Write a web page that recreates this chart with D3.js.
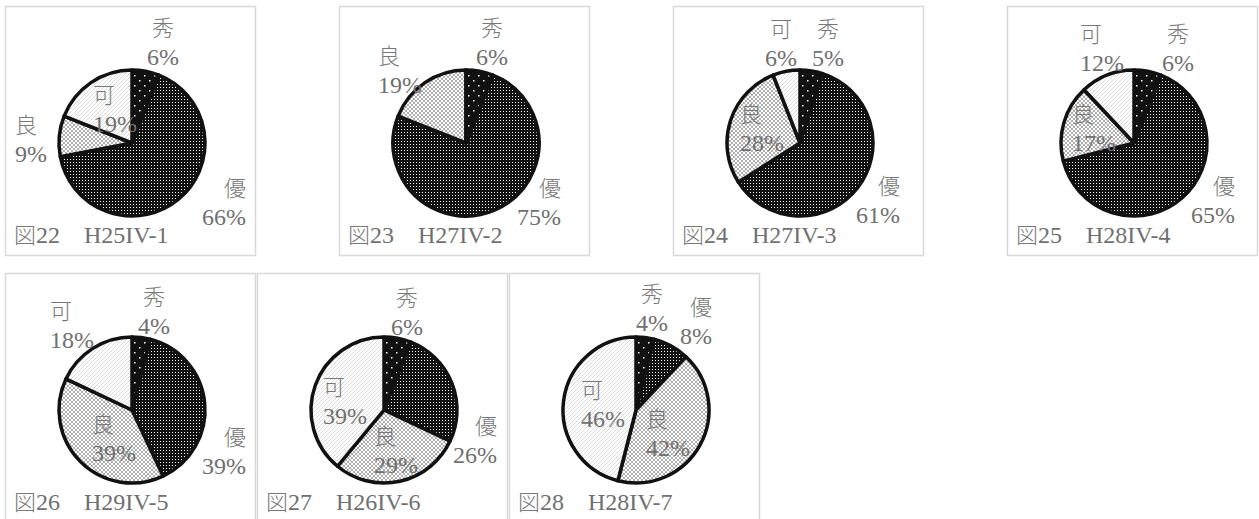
<!DOCTYPE html>
<html lang="ja">
<head>
<meta charset="utf-8">
<script src="https://cdn.jsdelivr.net/npm/d3@7"></script>
<style>
  body { margin: 0; background: #fff; }
  svg { display: block; }
  text { font-family: "Liberation Serif", "Noto Sans CJK JP", serif; fill: #707070; }
  .kanji { font-weight: 300; fill: #787878; }
</style>
</head>
<body>
<svg id="drawing_pie"></svg>
<script>
// 評価の区分（12時から時計回り）
const grades = ["秀", "優", "良", "可"];
const figNos = ["図22", "図23", "図24", "図25", "図26", "図27", "図28"];
const exams = ["H25IV-1", "H27IV-2", "H27IV-3", "H28IV-4", "H29IV-5", "H26IV-6", "H28IV-7"];
// 割合(%) 秀, 優, 良, 可
const shares = [
    [6, 66, 9, 19],
    [6, 75, 19, 0],
    [5, 61, 28, 6],
    [6, 65, 17, 12],
    [4, 39, 39, 18],
    [6, 26, 29, 39],
    [4, 8, 42, 46]
];

// ラベルの位置（円の中心から dx, dy, 揃え）
const labelPos = [
    [[31, -101, "middle"], [114, 59, "end"], [-117, -4, "start"], [-39, -34, "start"]],
    [[26, -101, "middle"], [95, 59, "end"], [-88, -73, "start"], null],
    [[28, -100, "middle"], [100, 57, "end"], [-60, -15, "start"], [-19, -100, "middle"]],
    [[44, -95, "middle"], [101, 57, "end"], [-62, -15, "start"], [-54, -95, "start"]],
    [[22, -99, "middle"], [114, 41, "end"], [-40, 28, "start"], [-82, -85, "start"]],
    [[23, -98, "middle"], [113, 30, "end"], [-10, 40, "start"], [-61, -9, "start"]],
    [[16, -102, "middle"], [76, -89, "end"], [10, 23, "start"], [-55, -6, "start"]]
];

// 枠の位置
const boxX = [5, 339, 673, 1007, 5, 257, 509];
const boxY = [6, 6, 6, 6, 273, 273, 273];

class PieBox {
    constructor(svg, i) {
        this.svg = svg;
        this.i = i;
        this.width = 250;
        this.height = 249;
        this.cx = 127;   // 円の中心
        this.cy = 137;
        this.radius = 73;
    }

    render(fill) {
        const g = this.svg.append('g')
            .attr('transform', `translate(${boxX[this.i]}, ${boxY[this.i]})`);

        // 枠
        g.append('rect')
            .attr('x', 0.5).attr('y', 0.5)
            .attr('width', this.width).attr('height', this.height)
            .attr('fill', '#fff')
            .attr('stroke', '#d9d9d9')
            .attr('stroke-width', 1.5);

        const data = grades.map((k, j) => ({ grade: k, value: shares[this.i][j], pos: labelPos[this.i][j] }));

        const pie = d3.pie().sort(null).value(d => d.value);
        const arc = d3.arc().innerRadius(0).outerRadius(this.radius);

        const chart = g.append('g')
            .attr('transform', `translate(${this.cx}, ${this.cy})`);

        chart.selectAll('path')
            .data(pie(data))
            .enter()
            .append('path')
            .attr('d', arc)
            .attr('fill', d => fill(d.data.grade))
            .attr('stroke', '#111')
            .attr('stroke-width', 3.5)
            .attr('stroke-linejoin', 'round');

        // データラベル
        const labels = chart.selectAll('g.lab')
            .data(data.filter(d => d.value > 0 && d.pos))
            .enter()
            .append('g')
            .attr('class', 'lab');

        labels.append('text')
            .attr('class', 'kanji')
            .attr('x', d => d.pos[0])
            .attr('y', d => d.pos[1] - 14.5 + 8)
            .attr('text-anchor', d => d.pos[2])
            .attr('font-size', 22)
            .text(d => d.grade);

        labels.append('text')
            .attr('x', d => d.pos[0])
            .attr('y', d => d.pos[1] + 14.5 + 8)
            .attr('text-anchor', d => d.pos[2])
            .attr('font-size', 24)
            .text(d => d.value + '%');

        // 図番号
        const t = g.append('text')
            .attr('x', 9)
            .attr('y', 237)
            .attr('font-size', 24);
        t.append('tspan').attr('class', 'kanji').attr('font-size', 22).text(figNos[this.i].slice(0, 1));
        t.append('tspan').text(figNos[this.i].slice(1) + '\u3000' + exams[this.i]);
    }
}

const svg = d3.select('#drawing_pie')
    .attr('width', 1259)
    .attr('height', 519);

const defs = svg.append('defs');

function makePattern(id, w, h) {
    return defs.append('pattern')
        .attr('id', id)
        .attr('patternUnits', 'userSpaceOnUse')
        .attr('width', w)
        .attr('height', h);
}

// 秀: 黒地にまばらな白点
let p = makePattern('pat-shu', 10, 10);
p.append('rect').attr('width', 10).attr('height', 10).attr('fill', '#111');
p.append('rect').attr('x', 2).attr('y', 2).attr('width', 1.5).attr('height', 1.5).attr('fill', '#fff');
p.append('rect').attr('x', 7).attr('y', 7).attr('width', 1.5).attr('height', 1.5).attr('fill', '#fff');

// 優: 黒地に細かい白点
p = makePattern('pat-yu', 3, 3);
p.append('rect').attr('width', 3).attr('height', 3).attr('fill', '#111');
p.append('rect').attr('x', 1).attr('y', 1).attr('width', 1).attr('height', 1).attr('fill', '#fff');

// 良: 灰色の格子
p = makePattern('pat-ryo', 4, 4);
p.append('rect').attr('width', 4).attr('height', 4).attr('fill', '#fff');
p.append('path').attr('d', 'M0,0L4,4M4,0L0,4').attr('stroke', '#999').attr('stroke-width', 0.8);

// 可: 薄い斜線
p = makePattern('pat-ka', 4, 4);
p.append('rect').attr('width', 4).attr('height', 4).attr('fill', '#fff');
p.append('path').attr('d', 'M0,4L4,0M-1,1L1,-1M3,5L5,3').attr('stroke', '#d0d0d0').attr('stroke-width', 0.8);

const fill = d3.scaleOrdinal()
    .domain(grades)
    .range(['url(#pat-shu)', 'url(#pat-yu)', 'url(#pat-ryo)', 'url(#pat-ka)']);

figNos.forEach((f, i) => {
    new PieBox(svg, i).render(fill);
});
</script>
</body>
</html>
